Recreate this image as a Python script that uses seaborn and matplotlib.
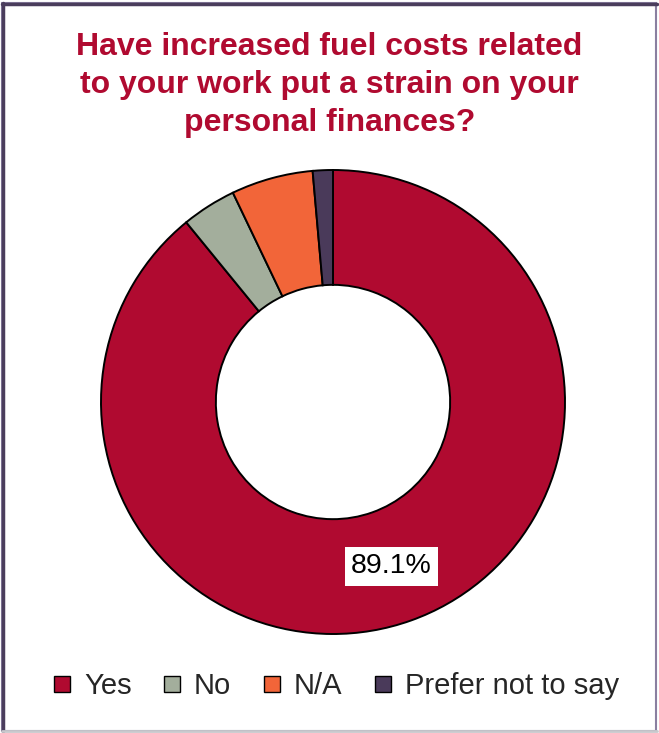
import matplotlib
matplotlib.use("Agg")
import matplotlib.pyplot as plt
import seaborn as sns
import numpy as np
from matplotlib.lines import Line2D
from matplotlib.patches import Rectangle

categories = ["Yes", "No", "N/A", "Prefer not to say"]
values = [89.1, 3.8, 5.7, 1.4]
colors = ["#B00A30", "#A3AE9C", "#F26539", "#4A3A5A"]
title = "Have increased fuel costs related\nto your work put a strain on your\npersonal finances?"

sns.set_theme(style="white")
plt.rcParams['font.family'] = ['Liberation Sans', 'DejaVu Sans']

W, H = 659, 733
fig = plt.figure(figsize=(W / 100, H / 100), dpi=100)

# donut axes
cx, cy, R = 333, 402, 232
pad = 1.03
ax = fig.add_axes([(cx - R * pad) / W, (H - cy - R * pad) / H, 2 * R * pad / W, 2 * R * pad / H])
wedges, _ = ax.pie(values, colors=colors, startangle=90, counterclock=False,
                   radius=1.0, wedgeprops=dict(width=0.495, edgecolor="black", linewidth=1.4))
ax.set_xlim(-pad, pad)
ax.set_ylim(-pad, pad)
ax.set_aspect("equal")
ax.axis("off")

# label for Yes slice
mid = 90 - values[0] / sum(values) * 360 / 2
r = 0.752
ax.text(r * np.cos(np.radians(mid)), r * np.sin(np.radians(mid)), f"{values[0]}%",
        ha="center", va="center", fontsize=20.5, color="black",
        bbox=dict(boxstyle="square,pad=0.22", facecolor="white", edgecolor="none"))

# title
fig.text(0.5, 1 - 85 / H, title, ha="center", va="center", fontsize=23,
         fontweight="bold", color="#B00A30", linespacing=1.35)

# legend
handles = [Line2D([0], [0], marker="s", linestyle="none", markersize=11,
                  markerfacecolor=c, markeredgecolor="black", markeredgewidth=1.0)
           for c in colors]
fig.legend(handles, categories, loc="center", bbox_to_anchor=(0.508, 1 - 686 / H),
           ncol=4, frameon=False, fontsize=21, handletextpad=0.34,
           columnspacing=1.0, handlelength=0.8)

# frame border
fig.patches.append(Rectangle((2 / W, 2 / H), (W - 5) / W, (H - 5) / H, transform=fig.transFigure,
                             fill=False, edgecolor="#8A7FA0", linewidth=1.5))
fig.add_artist(Line2D([3 / W, 3 / W], [2 / H, 1 - 3 / H], transform=fig.transFigure,
                      color="#4A3D5C", linewidth=2.5))
fig.add_artist(Line2D([2 / W, 1 - 2 / W], [1 - 3.5 / H, 1 - 3.5 / H], transform=fig.transFigure,
                      color="#4A3D5C", linewidth=2.5))
fig.add_artist(Line2D([2 / W, 1 - 2 / W], [2 / H, 2 / H], transform=fig.transFigure,
                      color="#C8C8CC", linewidth=2))

fig.savefig("out.png", dpi=100)
